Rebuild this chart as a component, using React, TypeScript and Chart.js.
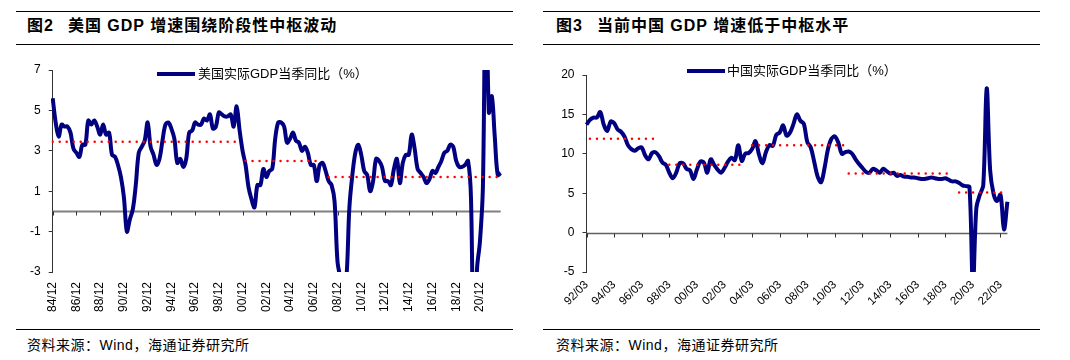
import React, { useEffect, useRef } from "react";
import { Chart, registerables } from "chart.js";

Chart.register(...registerables);

// ---------------- data: US ----------------
const usStartYear = 1984;
const usStartQuarter = 4;
const usValues = [
  5.6, 4.4, 3.7, 4.3, 4.2, 4.2, 3.9, 3.1, 2.9, 2.7,
  3.3, 3.3, 4.5, 4.3, 4.5, 4.2, 3.8, 4.3, 3.8, 3.9,
  2.8, 2.7, 2.3, 1.7, 0.7, -1.0, -0.4, 0.1, 1.3, 2.9,
  3.2, 3.5, 4.4, 3.2, 2.8, 2.3, 2.6, 3.5, 4.3, 4.4,
  4.1, 3.6, 2.4, 2.6, 2.2, 2.6, 3.9, 4.0, 4.4, 4.3,
  4.3, 4.6, 4.5, 4.8, 4.1, 4.2, 4.9, 4.8, 4.7, 4.7,
  4.8, 4.2, 5.2, 4.0, 3.0, 2.3, 1.2, 0.6, 0.2, 1.3,
  1.3, 2.1, 1.7, 2.0, 2.1, 3.6, 4.4, 4.4, 4.2, 3.4,
  3.6, 3.9, 3.5, 3.4, 3.0, 3.2, 2.9, 2.3, 2.3, 1.5,
  2.3, 2.4, 2.0, 1.5, 1.3, 0.5, -2.5, -3.3, -3.9, -3.3,
  0.2, 1.8, 2.9, 3.3, 2.8, 2.0, 1.8, 1.0, 1.5, 2.6,
  2.5, 2.2, 1.5, 1.5, 1.3, 2.1, 2.6, 1.4, 2.4, 2.8,
  2.8, 3.8, 3.1, 2.1, 1.9, 1.7, 1.4, 1.6, 2.0, 1.9,
  2.2, 2.5, 2.9, 3.0, 3.3, 3.2, 2.5, 2.2, 2.2, 2.3,
  2.5, 0.6, -9.1, -2.9, -1.5, 1.2, 12.5, 4.9, 5.7, 3.7,
  1.8, 1.9,
];
const usYTicks = [-3, -1, 1, 3, 5, 7];
const usCenterLevels = [3.45, 2.5, 1.7];
const usCenterRanges = [
  [0, 63],
  [65, 90],
  [93, 151],
];

// ---------------- data: China ----------------
const cnStartYear = 1992;
const cnStartQuarter = 1;
const cnValues = [
  13.7, 14.3, 14.6, 14.6, 15.3, 13.7, 12.9, 14.1, 13.9, 13.1,
  12.8, 12.2, 11.1, 10.6, 10.4, 10.7, 10.8, 9.8, 9.3, 10.1,
  10.2, 9.7, 8.9, 8.6, 7.6, 6.9, 7.6, 8.8, 8.8, 8.1,
  7.9, 6.8, 8.0, 9.0, 8.9, 7.6, 9.3, 8.6, 8.0, 7.6,
  8.2, 9.0, 9.5, 9.2, 11.1, 9.1, 10.0, 10.1, 10.6, 11.6,
  9.9, 8.8, 10.2, 11.1, 11.0, 12.4, 12.7, 13.6, 12.3, 12.7,
  13.8, 15.0, 14.2, 13.8, 11.5, 10.8, 9.0, 7.1, 6.4, 8.2,
  10.6, 11.9, 12.2, 11.4, 10.0, 10.2, 10.3, 10.0, 9.3, 8.7,
  8.2, 7.7, 7.6, 8.1, 7.9, 7.6, 8.1, 7.8, 7.5, 7.6,
  7.2, 7.3, 7.1, 7.1, 7.0, 7.0, 6.9, 6.8, 6.8, 6.9,
  7.0, 6.9, 6.8, 6.8, 6.9, 6.7, 6.5, 6.5, 6.3, 6.0,
  5.9, 5.8, -6.9, 3.1, 4.8, 6.0, 18.3, 7.9, 4.9, 4.0,
  4.8, 0.4, 3.9,
];
const cnYTicks = [-5, 0, 5, 10, 15, 20];
const cnCenterLevels = [11.9, 8.6, 11.1, 7.5, 5.1];
const cnCenterRanges = [
  [1, 21],
  [24, 45],
  [48, 75],
  [76, 106],
  [108, 122],
];

const LABEL_EVERY = 8;

function quarterLabels(startYear: number, startQuarter: number, count: number): string[] {
  const out: string[] = [];
  let y = startYear;
  let q = startQuarter;
  for (let i = 0; i < count; i++) {
    const yy = String(y % 100).padStart(2, "0");
    const mm = String(q * 3).padStart(2, "0");
    out.push(`${yy}/${mm}`);
    q++;
    if (q > 4) {
      q = 1;
      y++;
    }
  }
  return out;
}

function segmentSeries(count: number, level: number, range: number[]): (number | null)[] {
  const arr: (number | null)[] = [];
  for (let i = 0; i < count; i++) arr.push(i >= range[0] && i <= range[1] ? level : null);
  return arr;
}

const NAVY = "#000080";
const RED = "#ff0000";
const SANS = "'Liberation Sans', Arial, 'Noto Sans CJK SC', sans-serif";

function zeroAxisPlugin(color: string, width: number) {
  return {
    id: "zeroAxis",
    beforeDatasetsDraw(chart: any) {
      const { ctx, chartArea, scales } = chart;
      const x = scales.x;
      const y = scales.y;
      const y0 = Math.round(y.getPixelForValue(0)) + 0.5;
      ctx.save();
      ctx.strokeStyle = color;
      ctx.lineWidth = width;
      ctx.beginPath();
      ctx.moveTo(chartArea.left, y0);
      ctx.lineTo(chartArea.right, y0);
      ctx.stroke();
      ctx.lineWidth = 1;
      ctx.strokeStyle = "#333";
      ctx.beginPath();
      const n = chart.data.labels.length;
      for (let i = 0; i < n; i += LABEL_EVERY) {
        const px = Math.round(x.getPixelForValue(i)) + 0.5;
        ctx.moveTo(px, y0);
        ctx.lineTo(px, y0 + 4);
      }
      ctx.stroke();
      ctx.restore();
    },
  };
}

type PanelProps = {
  left: number;
  labels: string[];
  values: number[];
  yTicks: number[];
  levels: number[];
  ranges: number[][];
  pad: { left: number; right: number; top: number; bottom: number };
  rotation: number;
  xPad: number;
  xFont: string;
  xSize: number;
  zeroColor: string;
  zeroWidth: number;
};

function ChartPanel(p: PanelProps) {
  const ref = useRef<HTMLCanvasElement | null>(null);
  useEffect(() => {
    if (!ref.current) return;
    const n = p.labels.length;
    const centerSets = p.levels.map((lv, i) => ({
      data: segmentSeries(n, lv, p.ranges[i]),
      borderColor: RED,
      borderWidth: 2.5,
      borderDash: [0.001, 7],
      borderCapStyle: "round",
      pointRadius: 0,
      spanGaps: false,
      fill: false,
      order: 0,
    }));
    const chart = new Chart(ref.current, {
      type: "line",
      data: {
        labels: p.labels,
        datasets: [
          {
            data: p.values,
            borderColor: NAVY,
            borderWidth: 4,
            pointRadius: 0,
            tension: 0.35,
            fill: false,
            order: 1,
            clip: { left: 2, right: 3, top: 0, bottom: 0 },
          } as any,
          ...(centerSets as any[]),
        ],
      },
      options: {
        animation: false,
        responsive: false,
        maintainAspectRatio: false,
        events: [],
        layout: { padding: p.pad },
        plugins: { legend: { display: false }, tooltip: { enabled: false } },
        scales: {
          x: {
            type: "category",
            offset: false,
            grid: { display: false, drawTicks: false },
            border: { display: false },
            ticks: {
              autoSkip: false,
              maxRotation: p.rotation,
              minRotation: p.rotation,
              padding: p.xPad,
              color: "#000",
              font: { family: p.xFont, size: p.xSize },
              callback: (_v: any, i: number) => (i % LABEL_EVERY === 0 ? p.labels[i] : ""),
            },
            afterFit: (s: any) => {
              s.height = 50;
            },
          },
          y: {
            type: "linear",
            min: p.yTicks[0],
            max: p.yTicks[p.yTicks.length - 1],
            grid: {
              display: true,
              drawOnChartArea: false,
              drawTicks: true,
              tickLength: 4,
              color: "#333",
              lineWidth: 1,
            },
            border: { display: true, color: "#333", width: 1 },
            ticks: {
              padding: 8,
              color: "#000",
              font: { family: SANS, size: 12 },
            },
            afterBuildTicks: (s: any) => {
              s.ticks = p.yTicks.map((v) => ({ value: v }));
            },
            afterFit: (s: any) => {
              s.width = 40;
            },
          },
        },
      },
      plugins: [zeroAxisPlugin(p.zeroColor, p.zeroWidth)],
    } as any);
    return () => chart.destroy();
  }, []);
  return (
    <canvas
      ref={ref}
      width={535}
      height={283}
      style={{ position: "absolute", left: p.left, top: 45, width: 535, height: 283, display: "block" }}
    />
  );
}

function Rule({ x1, x2, y }: { x1: number; x2: number; y: number }) {
  return <div style={{ position: "absolute", left: x1, top: y, width: x2 - x1, height: 1, background: "#000" }} />;
}

function Legend({ lineX, textX, y, text }: { lineX: number; textX: number; y: number; text: string }) {
  return (
    <>
      <div style={{ position: "absolute", left: lineX, top: y - 2, width: 38, height: 4, background: NAVY }} />
      <div
        style={{
          position: "absolute",
          left: textX,
          top: y - 8,
          height: 16,
          lineHeight: "16px",
          fontSize: 13,
          fontFamily: SANS,
          color: "#000",
          whiteSpace: "nowrap",
        }}
      >
        {text}
      </div>
    </>
  );
}

function Title({ x, num, text }: { x: number; num: string; text: string }) {
  return (
    <div
      style={{
        position: "absolute",
        left: x,
        top: 16,
        height: 20,
        lineHeight: "20px",
        fontSize: 16,
        fontWeight: "bold",
        fontFamily: SANS,
        color: "#000",
        whiteSpace: "nowrap",
        letterSpacing: 1,
      }}
    >
      <span>{num}</span>
      <span style={{ marginLeft: 14 }}>{text}</span>
    </div>
  );
}

function Source({ x }: { x: number }) {
  return (
    <div
      style={{
        position: "absolute",
        left: x,
        top: 336,
        height: 18,
        lineHeight: "18px",
        fontSize: 14,
        fontFamily: SANS,
        color: "#000",
        whiteSpace: "nowrap",
        letterSpacing: 0.5,
      }}
    >
      资料来源：Wind，海通证券研究所
    </div>
  );
}

export default function App() {
  const usLabels = quarterLabels(usStartYear, usStartQuarter, usValues.length);
  const cnLabels = quarterLabels(cnStartYear, cnStartQuarter, cnValues.length);
  return (
    <div
      style={{
        position: "absolute",
        left: 0,
        top: 0,
        width: 1070,
        height: 360,
        background: "#fff",
        overflow: "hidden",
      }}
    >
      <Rule x1={16} x2={513} y={11} />
      <Rule x1={16} x2={513} y={44} />
      <Rule x1={16} x2={513} y={329} />
      <Rule x1={543} x2={1040} y={11} />
      <Rule x1={543} x2={1040} y={44} />
      <Rule x1={543} x2={1040} y={329} />
      <Title x={27} num="图2" text="美国 GDP 增速围绕阶段性中枢波动" />
      <Title x={556} num="图3" text="当前中国 GDP 增速低于中枢水平" />
      <ChartPanel
        left={0}
        labels={usLabels}
        values={usValues}
        yTicks={usYTicks}
        levels={usCenterLevels}
        ranges={usCenterRanges}
        pad={{ left: 12.7, right: 34.3, top: 25, bottom: 6 }}
        rotation={90}
        xPad={10}
        xFont={"'Liberation Sans Narrow', 'Liberation Sans', Arial, sans-serif"}
        xSize={12}
        zeroColor="#808080"
        zeroWidth={2}
      />
      <ChartPanel
        left={535}
        labels={cnLabels}
        values={cnValues}
        yTicks={cnYTicks}
        levels={cnCenterLevels}
        ranges={cnCenterRanges}
        pad={{ left: 11.5, right: 62.6, top: 30, bottom: 6 }}
        rotation={45}
        xPad={6}
        xFont={SANS}
        xSize={11.5}
        zeroColor="#606060"
        zeroWidth={1.5}
      />
      <Legend lineX={157} textX={198} y={74} text="美国实际GDP当季同比（%）" />
      <Legend lineX={687} textX={727} y={71} text="中国实际GDP当季同比（%）" />
      <Source x={27} />
      <Source x={556} />
    </div>
  );
}
